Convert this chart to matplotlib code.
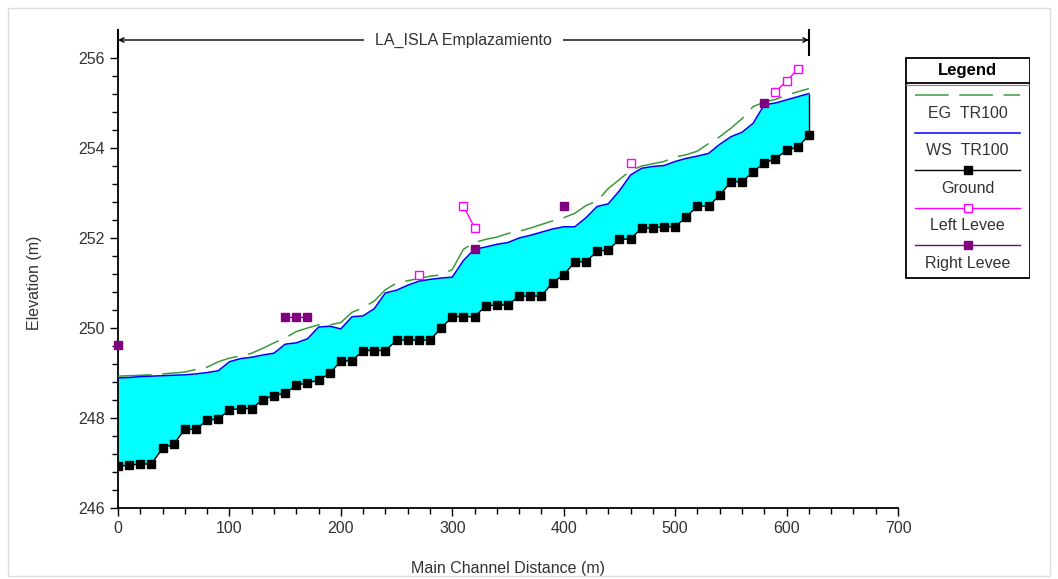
import numpy as np
import matplotlib
matplotlib.use("Agg")
import matplotlib.pyplot as plt
from matplotlib.patches import Rectangle

plt.rcParams['font.family'] = ['Liberation Sans', 'DejaVu Sans']

# stations along main channel (m)
station = [0, 10, 20, 30, 40, 50, 60, 70, 80, 90,
           100, 110, 120, 130, 140, 150, 160, 170, 180, 190,
           200, 210, 220, 230, 240, 250, 260, 270, 280, 290,
           300, 310, 320, 330, 340, 350, 360, 370, 380, 390,
           400, 410, 420, 430, 440, 450, 460, 470, 480, 490,
           500, 510, 520, 530, 540, 550, 560, 570, 580, 590,
           600, 610, 620]

ground = [246.93, 246.95, 246.98, 246.98, 247.33, 247.42, 247.75, 247.75, 247.95, 247.98,
          248.18, 248.21, 248.21, 248.41, 248.50, 248.55, 248.73, 248.78, 248.84, 248.99,
          249.27, 249.27, 249.50, 249.50, 249.50, 249.73, 249.73, 249.73, 249.73, 250.00,
          250.25, 250.25, 250.25, 250.49, 250.51, 250.51, 250.71, 250.71, 250.71, 251.01,
          251.18, 251.47, 251.47, 251.71, 251.73, 251.97, 251.98, 252.22, 252.22, 252.25,
          252.25, 252.47, 252.71, 252.71, 252.95, 253.25, 253.25, 253.47, 253.67, 253.76,
          253.95, 254.02, 254.28]

ws_tr100 = [248.89, 248.90, 248.92, 248.93, 248.94, 248.95, 248.96, 248.98, 249.01, 249.05,
            249.25, 249.32, 249.35, 249.40, 249.44, 249.64, 249.67, 249.76, 250.02, 250.04,
            249.98, 250.25, 250.27, 250.43, 250.78, 250.84, 250.95, 251.04, 251.08, 251.11,
            251.13, 251.50, 251.75, 251.80, 251.86, 251.90, 252.00, 252.06, 252.13, 252.20,
            252.25, 252.25, 252.45, 252.70, 252.76, 253.05, 253.40, 253.55, 253.59, 253.61,
            253.70, 253.77, 253.82, 253.88, 254.08, 254.25, 254.35, 254.55, 254.96, 255.00,
            255.07, 255.14, 255.21]

eg_tr100 = [248.93, 248.94, 248.95, 248.96, 248.98, 249.00, 249.02, 249.08, 249.13, 249.25,
            249.33, 249.38, 249.44, 249.55, 249.67, 249.78, 249.92, 250.00, 250.07, 250.07,
            250.12, 250.35, 250.45, 250.60, 250.85, 251.00, 251.05, 251.10, 251.15, 251.18,
            251.30, 251.75, 251.90, 251.97, 252.02, 252.10, 252.15, 252.22, 252.30, 252.38,
            252.45, 252.55, 252.72, 252.82, 253.10, 253.30, 253.50, 253.60, 253.65, 253.70,
            253.80, 253.85, 253.93, 254.10, 254.25, 254.44, 254.65, 254.92, 255.02, 255.08,
            255.17, 255.25, 255.32]

# levees (NaN breaks the line between groups)
left_levee_x = [270, 280, 310, 320, 330, 460, 470, 590, 600, 610]
left_levee_y = [251.18, np.nan, 252.71, 252.23, np.nan, 253.67, np.nan, 255.25, 255.49, 255.75]

right_levee_x = [0, 10, 150, 160, 170, 180, 320, 330, 400, 410, 580]
right_levee_y = [249.62, np.nan, 250.25, 250.25, 250.25, np.nan, 251.75, np.nan, 252.71, np.nan, 254.99]

reach_name = "LA_ISLA Emplazamiento"
legend_labels = ["EG  TR100", "WS  TR100", "Ground", "Left Levee", "Right Levee"]

W, H = 1058, 579
fig = plt.figure(figsize=(W / 100, H / 100), dpi=100)
fig.patches.append(Rectangle((8 / W, 3 / H), 1042 / W, 568 / H, transform=fig.transFigure,
                             fill=False, edgecolor='#dddddd', linewidth=1.0))

ax = fig.add_axes([118 / W, 1 - 508 / H, 780 / W, 450 / H])

eg_color = '#3a9a3a'
ws_color = '#0000ff'
ll_color = '#ff00ff'
rl_color = '#800080'
ms = 6

ax.fill_between(station, ground, ws_tr100, color='#00ffff', linewidth=0, zorder=1)
ax.vlines(station[-1], ground[-1], ws_tr100[-1], color='black', linewidth=1.0, zorder=2)
ax.plot(station, eg_tr100, color=eg_color, linewidth=1.1, dashes=(22, 7), zorder=3)
ax.plot(station, ws_tr100, color=ws_color, linewidth=1.1, zorder=3)
ax.plot(station, ground, color='black', linewidth=1.0, marker='s', markersize=ms,
        markerfacecolor='black', markeredgecolor='black', zorder=4)
ax.plot(left_levee_x, left_levee_y, color=ll_color, linewidth=1.0, marker='s', markersize=ms,
        markerfacecolor='white', markeredgecolor=ll_color, markeredgewidth=1.0, zorder=5, clip_on=False)
ax.plot(right_levee_x, right_levee_y, color=rl_color, linewidth=1.0, marker='s', markersize=ms,
        markerfacecolor=rl_color, markeredgecolor=rl_color, zorder=5, clip_on=False)

ax.set_xlim(0, 700)
ax.set_ylim(246, 256)
ax.set_xticks(np.arange(0, 701, 100))
ax.set_xticks(np.arange(0, 701, 20), minor=True)
ax.set_yticks(np.arange(246, 257, 2))
ax.set_yticks(np.arange(246, 256.01, 0.4), minor=True)
for s in ['top', 'right']:
    ax.spines[s].set_visible(False)
for s in ['left', 'bottom']:
    ax.spines[s].set_linewidth(1.3)
ax.tick_params(which='major', direction='out', length=6, width=1.0, labelsize=11.5, colors='black',
               labelcolor='#333333')
ax.tick_params(which='minor', direction='out', length=4, width=1.0)
ax.set_xlabel("Main Channel Distance (m)", fontsize=11.5, color='#333333', labelpad=18)
ax.set_ylabel("Elevation (m)", fontsize=11.5, color='#333333', labelpad=26)

# reach extent annotation on top
y_arrow = 256.4
ax.annotate('', xy=(station[0], y_arrow), xytext=(station[-1], y_arrow),
            arrowprops=dict(arrowstyle='<->', color='black', lw=1.0, shrinkA=0, shrinkB=0,
                            mutation_scale=8), annotation_clip=False)
ax.plot([station[0], station[0]], [256.0, 256.62], color='black', lw=1.5, clip_on=False)
ax.plot([station[-1], station[-1]], [256.06, 256.62], color='black', lw=1.5, clip_on=False)
ax.text((station[0] + station[-1]) / 2, y_arrow, reach_name, ha='center', va='center', fontsize=11.5,
        color='#333333', bbox=dict(facecolor='white', edgecolor='none', pad=8), clip_on=False)

# legend box drawn by hand (line sample above each label)
lg = fig.add_axes([905 / W, 1 - 279 / H, 125 / W, 222 / H])
lg.set_xlim(0, 125)
lg.set_ylim(222, 0)
lg.axis('off')
lg.add_patch(Rectangle((0.5, 0.5), 124, 221, fill=False, edgecolor='black', linewidth=1.3))
lg.plot([0.5, 124.5], [26, 26], color='black', lw=1.3)
lg.plot([0.5, 124.5], [28, 28], color='#888888', lw=0.8)
lg.text(62.5, 14, "Legend", ha='center', va='center', fontsize=12, fontweight='bold')
samples = [
    dict(color=eg_color, dashes=(22, 7), lw=1.1),
    dict(color=ws_color, lw=1.1),
    dict(color='black', lw=1.0, marker='s', ms=ms, mfc='black', mec='black'),
    dict(color=ll_color, lw=1.0, marker='s', ms=ms, mfc='white', mec=ll_color),
    dict(color=rl_color, lw=1.0, marker='s', ms=ms, mfc=rl_color, mec=rl_color),
]
for i, (lab, kw) in enumerate(zip(legend_labels, samples)):
    y0 = 38 + i * 37.6
    xs = [10, 62.5, 115]
    lg.plot(xs, [y0] * 3, markevery=[1] if 'marker' in kw else None, **kw)
    lg.text(62.5, y0 + 18, lab, ha='center', va='center', fontsize=11.5, color='#333333')

fig.savefig("out.png", dpi=100)
